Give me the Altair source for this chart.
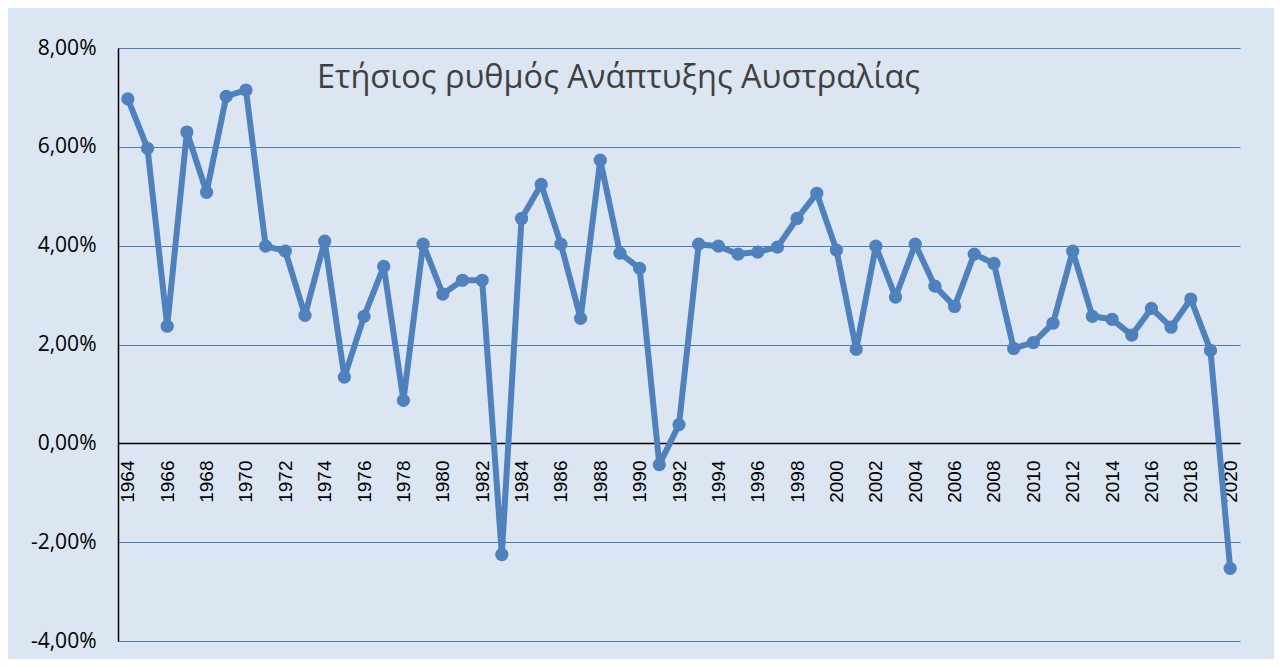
import altair as alt
import pandas as pd

years = list(range(1964, 2021))
growth = [6.97, 5.97, 2.37, 6.30, 5.08, 7.02, 7.15, 3.99, 3.89, 2.59,
          4.09, 1.34, 2.57, 3.58, 0.87, 4.03, 3.02, 3.30, 3.30, -2.25,
          4.55, 5.24, 4.03, 2.53, 5.73, 3.85, 3.54, -0.43, 0.38, 4.03,
          3.99, 3.83, 3.87, 3.97, 4.55, 5.06, 3.91, 1.90, 3.99, 2.96,
          4.03, 3.18, 2.77, 3.83, 3.64, 1.92, 2.04, 2.43, 3.89, 2.57,
          2.51, 2.19, 2.73, 2.35, 2.92, 1.88, -2.53]
x_ticks = list(range(1964, 2021, 2))
y_ticks = [-4, -2, 0, 2, 4, 6, 8]
title_text = "Ετήσιος ρυθμός Ανάπτυξης Αυστραλίας"

df = pd.DataFrame({"year": years, "growth": growth})

x = alt.X("year:Q",
          scale=alt.Scale(domain=[1963.5, 2020.5], nice=False, zero=False),
          axis=alt.Axis(values=x_ticks, format="d", labelAngle=270, ticks=False,
                        grid=False, domainColor="black", domainWidth=1.5,
                        labelFont="Liberation Sans", labelFontSize=19,
                        labelColor="black", labelPadding=17, offset=-198,
                        title=None, labelOverlap=False))
y = alt.Y("growth:Q",
          scale=alt.Scale(domain=[-4, 8], nice=False),
          axis=alt.Axis(values=y_ticks, ticks=False, grid=True,
                        gridColor="#4a7ebb", gridWidth=1,
                        domainColor="black", domainWidth=1.5,
                        labelExpr="replace(replace(format(datum.value, '.2f'), '.', ','), '\u2212', '-') + '%'",
                        labelFont="Open Sans", labelFontSize=21, labelColor="black",
                        labelPadding=22, title=None))

base = alt.Chart(df).encode(x=x, y=y)
line = base.mark_line(color="#4f81bd", strokeWidth=6, strokeJoin="round")
pts = base.mark_circle(color="#4f81bd", size=175, opacity=1)

title = alt.Chart(pd.DataFrame({"t": [title_text]})).mark_text(
    align="left", baseline="middle", font="Open Sans", fontSize=32.5,
    color="#404040").encode(text="t:N", x=alt.value(199), y=alt.value(30))

chart = alt.layer(line, pts, title).properties(
    width=1122, height=593,
    autosize=alt.AutoSizeParams(type="none"),
    padding={"left": 110, "top": 40, "right": 34, "bottom": 18},
).configure(background="#dce6f2").configure_view(stroke=None)

chart.save("out.html", embed_options={"renderer": "svg", "actions": False})
